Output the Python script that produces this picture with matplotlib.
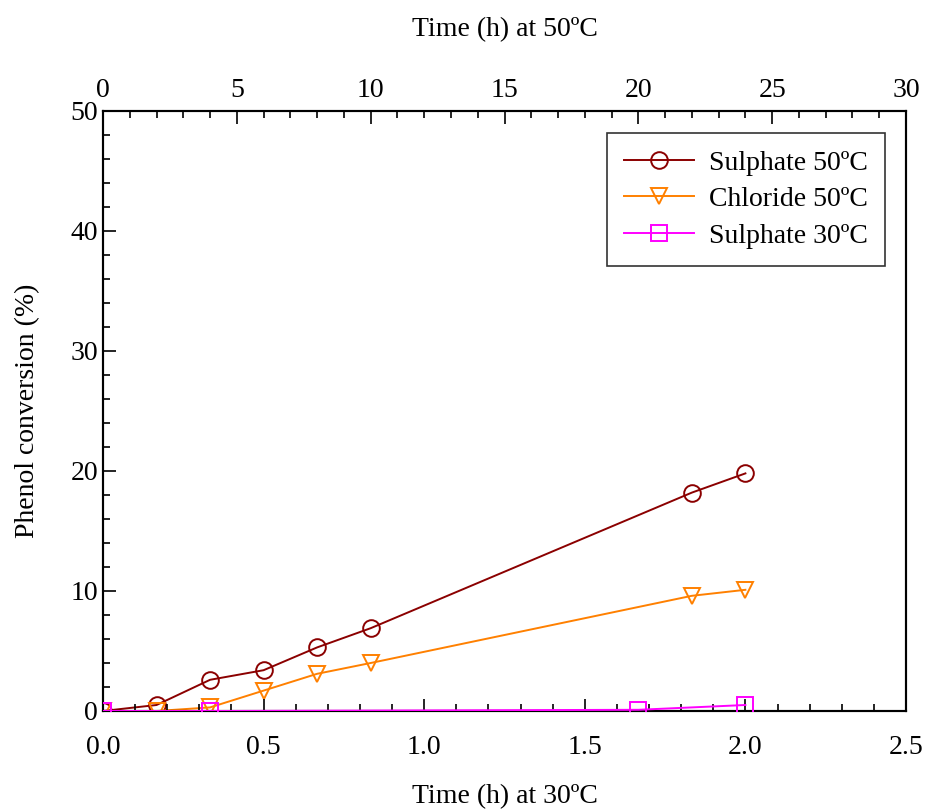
import numpy as np
import matplotlib.pyplot as plt
from matplotlib.ticker import MultipleLocator

# 50ºC series, time in hours at 50ºC (top axis)
t50 = [0, 2, 4, 6, 8, 10, 22, 24]
sulphate_50 = [0, 0.5, 2.6, 3.4, 5.3, 6.9, 18.2, 19.8]
chloride_50 = [0, 0, 0.3, 1.7, 3.1, 4.0, 9.6, 10.1]

# 30ºC series, time in hours at 30ºC (bottom axis)
t30 = [0, 0.333, 1.667, 2.0]
sulphate_30 = [0, 0, 0.1, 0.5]

plt.rcParams['font.family'] = ['Liberation Serif', 'DejaVu Serif']

fig = plt.figure(figsize=(9.26, 8.10), dpi=100)
ax = fig.add_axes([103 / 926, 1 - 711 / 810, 803 / 926, 600 / 810])
ax2 = ax.twiny()
# keep the 30ºC axis (and its magenta line) on top
ax.set_zorder(ax2.get_zorder() + 1)
ax.patch.set_visible(False)

l3, = ax.plot(t30, sulphate_30, color='#ff00ff', lw=1.4, marker='s', ms=11,
              mfc='none', mec='#ff00ff', mew=1.4, label='Sulphate 30ºC', zorder=3)
l1, = ax2.plot(t50, sulphate_50, color='#8b0000', lw=1.4, marker='o', ms=12,
               mfc='none', mec='#8b0000', mew=1.4, label='Sulphate 50ºC')
l2, = ax2.plot(t50, chloride_50, color='#ff8000', lw=1.4, marker='v', ms=12,
               mfc='none', mec='#ff8000', mew=1.4, label='Chloride 50ºC')

ax.set_xlim(0, 2.5)
ax.set_ylim(0, 50)
ax2.set_xlim(0, 30)

ax.xaxis.set_major_locator(MultipleLocator(0.5))
ax.xaxis.set_minor_locator(MultipleLocator(0.1))
ax.yaxis.set_major_locator(MultipleLocator(10))
ax.yaxis.set_minor_locator(MultipleLocator(2))
ax2.xaxis.set_major_locator(MultipleLocator(5))
ax2.xaxis.set_minor_locator(MultipleLocator(1))
ax.xaxis.set_major_formatter(plt.FormatStrFormatter('%.1f'))

for a in (ax, ax2):
    a.tick_params(which='both', direction='in', labelsize=20, width=1.2)
    a.tick_params(which='major', length=9)
    a.tick_params(which='minor', length=5)
    for s in a.spines.values():
        s.set_linewidth(1.5)
ax.tick_params(axis='y', which='both', right=False)
ax.tick_params(axis='x', pad=17)
ax2.tick_params(axis='x', pad=6)

ax.set_xlabel('Time (h) at 30ºC', fontsize=20, va='center')
ax.xaxis.set_label_coords(0.5, -86 / 600)
ax2.set_xlabel('Time (h) at 50ºC', fontsize=20, labelpad=30)
ax.set_ylabel('Phenol conversion (%)', fontsize=20, labelpad=22)

leg = ax.legend(handles=[l1, l2, l3], loc='upper right', fontsize=20,
                frameon=True, fancybox=False, edgecolor='black',
                handlelength=2.5, handletextpad=0.55, borderpad=0.62,
                labelspacing=0.4, borderaxespad=0,
                bbox_to_anchor=(782 / 803, 1 - 22 / 600))
leg.get_frame().set_linewidth(1.2)

fig.savefig('out.png', dpi=100)
